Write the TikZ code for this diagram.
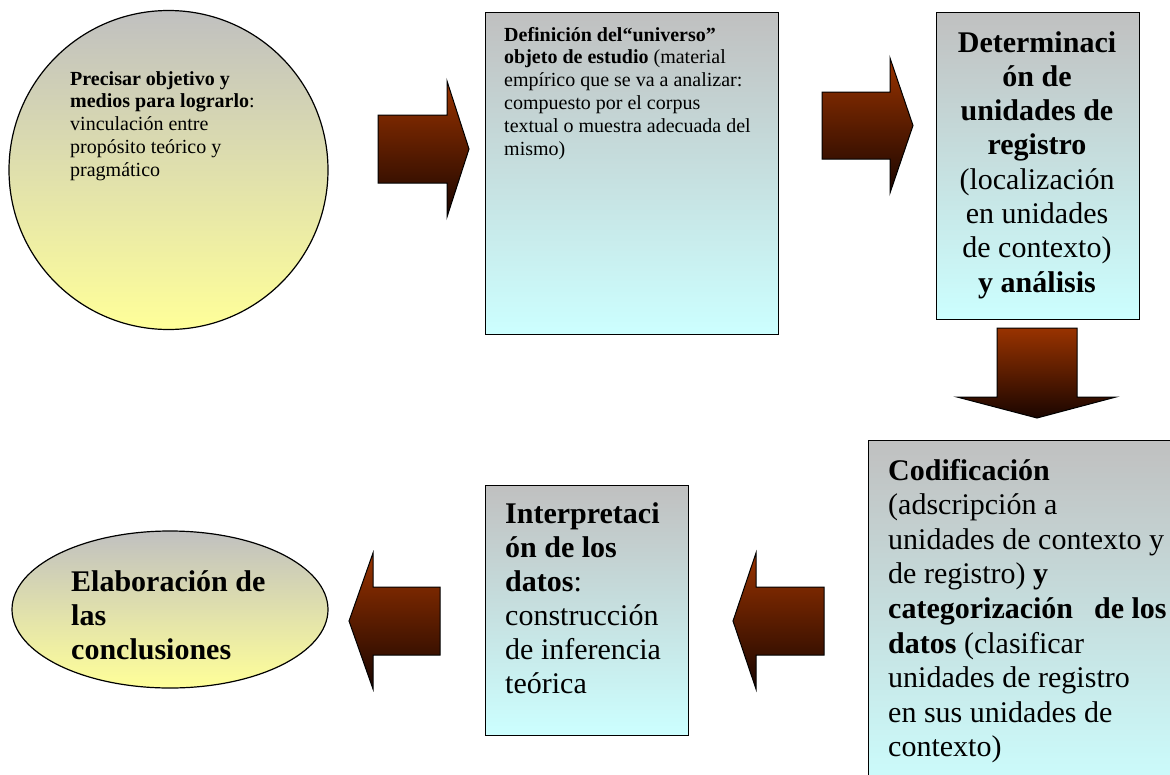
\documentclass[tikz,border=0pt]{standalone}
\usepackage{fontspec}
\setmainfont{Liberation Serif}
\usetikzlibrary{shapes.geometric}
\definecolor{boxtop}{HTML}{C0C0C0}
\definecolor{boxbot}{HTML}{CCFFFF}
\definecolor{circbot}{HTML}{FFFF99}
\definecolor{arrtop}{HTML}{993300}
\definecolor{arrbot}{HTML}{1A0500}
\newcommand{\fsz}[2]{\fontsize{#1}{#2}\selectfont}
\begin{document}
\begin{tikzpicture}[x=1pt,y=-1pt,
  stepbox/.style={draw=black, line width=1.2pt, top color=boxtop, bottom color=boxbot, inner sep=0pt, anchor=north west},
  ovalbox/.style={draw=black, line width=1.2pt, top color=boxtop, bottom color=circbot, inner sep=0pt},
  blockarrow/.style={draw=black, line width=1pt, top color=arrtop, bottom color=arrbot, line join=miter},
  txt/.style={inner sep=0pt, anchor=base west, text=black},
]
\useasboundingbox (0,0) rectangle (1170,774);
\clip (0,0) rectangle (1170,774);

% shapes
\node[ovalbox, circle, minimum size=319pt] (c1) at (168.5,170) {};
\node[stepbox, minimum width=293pt, minimum height=322pt] (b2) at (485,12) {};
\node[stepbox, minimum width=203pt, minimum height=307pt] (b3) at (936,12) {};
\node[stepbox, minimum width=320pt, minimum height=360pt] (b4) at (868,440) {};
\node[stepbox, minimum width=203pt, minimum height=250pt] (b5) at (485,485) {};
\node[ovalbox, ellipse, minimum width=316pt, minimum height=157pt] (e1) at (170,609.5) {};

% block arrows
\path[blockarrow] (378,115) -- (447,115) -- (447,81) -- (469,149) -- (447,217) -- (447,183) -- (378,183) -- cycle;
\path[blockarrow] (822,92) -- (890,92) -- (890,58) -- (913,125.5) -- (890,193) -- (890,159) -- (822,159) -- cycle;
\path[blockarrow] (997,328) -- (1077,328) -- (1077,397) -- (1116,397) -- (1037,418) -- (957,397) -- (997,397) -- cycle;
\path[blockarrow] (824,587) -- (756,587) -- (756,553) -- (733,621) -- (756,689) -- (756,655) -- (824,655) -- cycle;
\path[blockarrow] (440,587) -- (373,587) -- (373,553) -- (349,621) -- (373,689) -- (373,655) -- (440,655) -- cycle;

% texts
\node[txt] (t1) at (70,85) {\fsz{20}{22.8}\begin{tabular}[t]{@{}l@{}}\textbf{Precisar objetivo y}\\ \textbf{medios para lograrlo}:\\ vinculación entre\\ propósito teórico y\\ pragmático\end{tabular}};

\node[txt] (t2) at (504,41) {\fsz{20}{22.9}\begin{tabular}[t]{@{}l@{}}\textbf{Definición del“universo”}\\ \textbf{objeto de estudio} (material\\ empírico que se va a analizar:\\ compuesto por el corpus\\ textual o muestra adecuada del\\ mismo)\end{tabular}};

\node[txt, anchor=base] (t3) at (1037,52) {\fsz{30}{34.3}\begin{tabular}[t]{@{}c@{}}\textbf{Determinaci}\\ \textbf{ón de}\\ \textbf{unidades de}\\ \textbf{registro}\\ (localización\\ en unidades\\ de contexto)\\ \textbf{y análisis}\end{tabular}};

\node[txt] (t4) at (888,480) {\fsz{30}{34.6}\begin{tabular}[t]{@{}l@{}}\textbf{Codificación}\\ (adscripción a\\ unidades de contexto y\\ de registro) \textbf{y}\\ \textbf{categorización\hspace{0.45em} de los}\\ \textbf{datos} (clasificar\\ unidades de registro\\ en sus unidades de\\ contexto)\end{tabular}};

\node[txt] (t5) at (505,523) {\fsz{30}{34}\begin{tabular}[t]{@{}l@{}}\textbf{Interpretaci}\\ \textbf{ón de los}\\ \textbf{datos}:\\ construcción\\ de inferencia\\ teórica\end{tabular}};

\node[txt] (t6) at (71,591) {\fsz{30}{34}\begin{tabular}[t]{@{}l@{}}\textbf{Elaboración de}\\ \textbf{las}\\ \textbf{conclusiones}\end{tabular}};
\end{tikzpicture}
\end{document}
